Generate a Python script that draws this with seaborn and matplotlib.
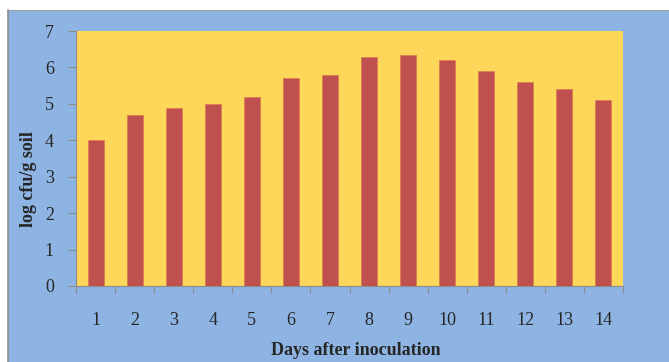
import matplotlib
matplotlib.use("Agg")
import matplotlib.pyplot as plt
from matplotlib.patches import Rectangle
from matplotlib.lines import Line2D
from matplotlib.ticker import FixedLocator
import seaborn as sns
import pandas as pd

days = [str(d) for d in range(1, 15)]
log_cfu = [4.0, 4.7, 4.9, 5.0, 5.2, 5.7, 5.8, 6.3, 6.35, 6.2, 5.9, 5.6, 5.4, 5.1]
y_ticks = [0, 1, 2, 3, 4, 5, 6, 7]

sns.set_style("white")
plt.rcParams["font.family"] = ["Liberation Serif", "DejaVu Serif"]

W, H = 669, 362
fig = plt.figure(figsize=(W / 100, H / 100), dpi=100)
fig.patch.set_facecolor("white")

# chart-area panel with a grey frame on the left and top
x0, y1 = 8 / W, 1 - 10 / H
fig.add_artist(Rectangle((x0, 0), 1 - x0, y1, transform=fig.transFigure,
                         facecolor="#8EB4E3", edgecolor="none", zorder=-10))
fig.add_artist(Line2D([x0, x0], [0, y1], transform=fig.transFigure,
                      color="#8C8C8C", lw=1.2, zorder=-9))
fig.add_artist(Line2D([x0, 1], [y1, y1], transform=fig.transFigure,
                      color="#A0A0A0", lw=0.8, zorder=-9))

ax = fig.add_axes([76 / W, 1 - 286 / H, (623 - 76) / W, (286 - 31) / H])
ax.set_facecolor("#FDD75A")

df = pd.DataFrame({"day": days, "log_cfu": log_cfu})
sns.barplot(data=df, x="day", y="log_cfu", color="#C0504D", saturation=1,
            width=0.41, edgecolor="#DE7E52", linewidth=0.6, ax=ax)

ax.set_xlim(-0.5, len(days) - 0.5)
ax.set_ylim(0, 7)
ax.set_yticks(y_ticks)
ax.set_yticklabels([str(t) for t in y_ticks])

# ticks between categories, labels centred under bars
ax.xaxis.set_minor_locator(FixedLocator([i - 0.5 for i in range(len(days) + 1)]))
ax.tick_params(axis="x", which="major", length=0, pad=19, labelsize=13)
ax.tick_params(axis="x", which="minor", length=5, width=0.8, color="#8C8C8C",
               direction="out", bottom=True)
ax.tick_params(axis="y", which="major", length=6, width=0.8, color="#8C8C8C",
               direction="out", left=True, pad=10, labelsize=13)

for side in ["top", "right"]:
    ax.spines[side].set_visible(False)
for side in ["left", "bottom"]:
    ax.spines[side].set_color("#8C8C8C")
    ax.spines[side].set_linewidth(0.8)

ax.set_xlabel("Days after inoculation", fontsize=13, fontweight="bold",
              va="center")
ax.set_ylabel("log cfu/g soil", fontsize=13, fontweight="bold", va="center")
ax.xaxis.set_label_coords(0.512, -0.251)
ax.yaxis.set_label_coords(-0.086, 0.42)

fig.savefig("out.png", dpi=100, facecolor=fig.get_facecolor())
